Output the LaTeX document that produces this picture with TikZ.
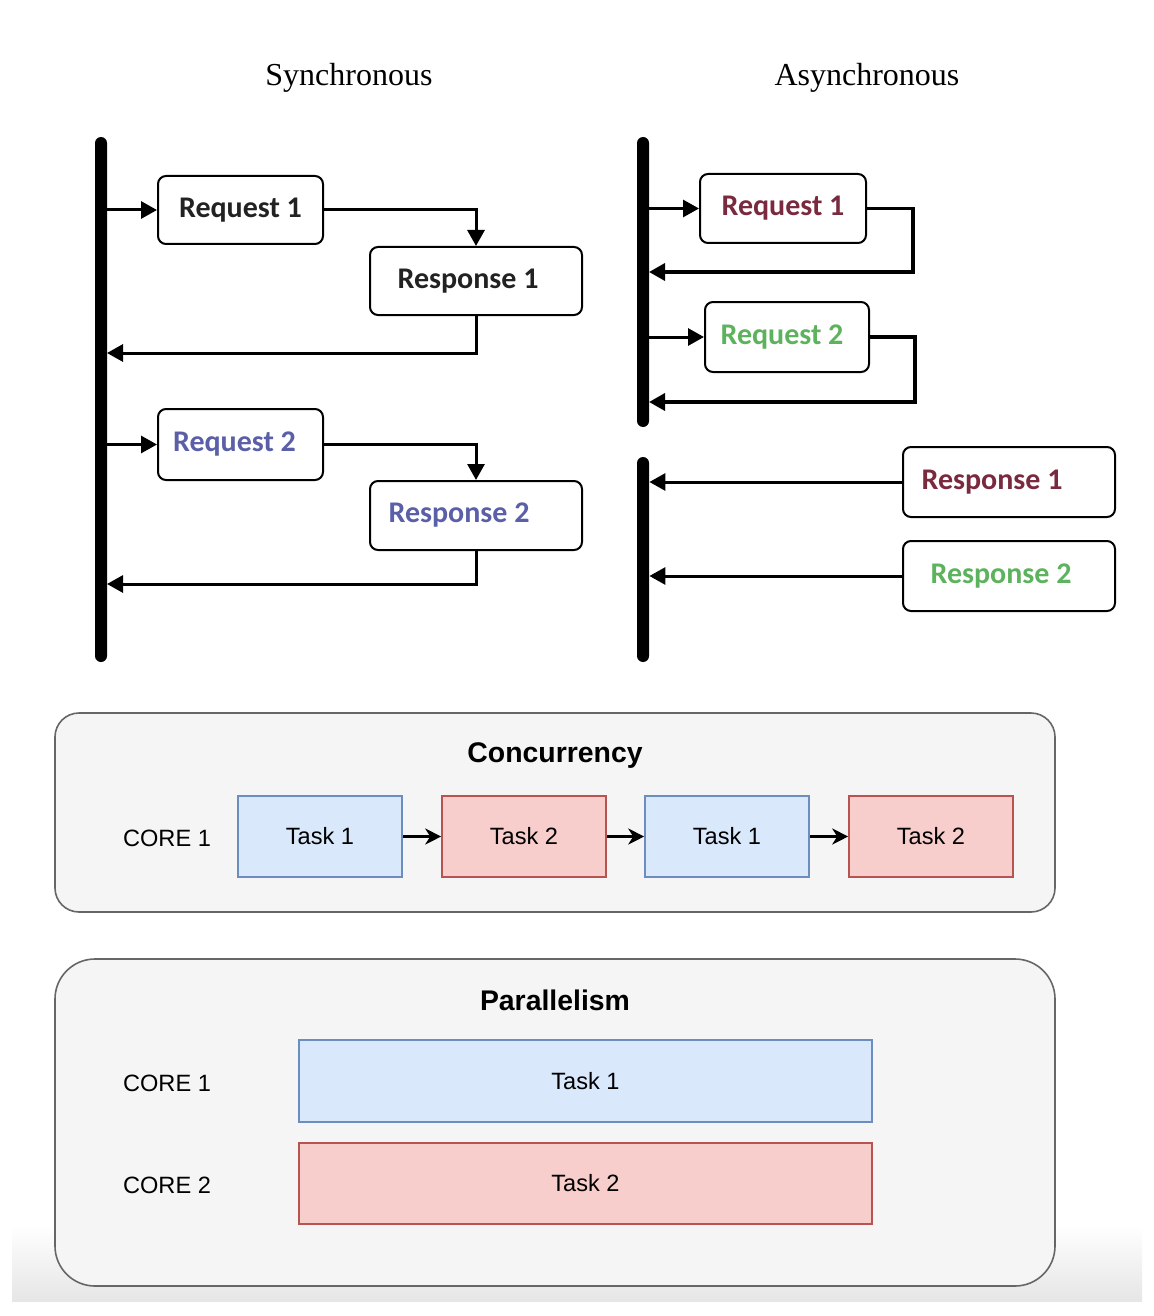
\documentclass[tikz,border=0pt]{standalone}
\usepackage{fontspec}
\setmainfont{Liberation Serif}
\newfontfamily\calfont{Carlito}
\newfontfamily\helvfont{Liberation Sans}
\usetikzlibrary{arrows.meta}
\definecolor{panelfill}{HTML}{F5F5F5}
\definecolor{panelline}{HTML}{666666}
\definecolor{bluefill}{HTML}{DAE8FC}
\definecolor{blueline}{HTML}{6C8EBF}
\definecolor{redfill}{HTML}{F8CECC}
\definecolor{redline}{HTML}{B85450}
\definecolor{maroontxt}{HTML}{7A2A3E}
\definecolor{greentxt}{HTML}{5DB35D}
\definecolor{bluetxt}{HTML}{5A5FA8}
\definecolor{darktxt}{HTML}{222222}
\tikzset{
  msgbox/.style={draw=black, line width=1pt, rounded corners=4pt, fill=white,
    font=\calfont\bfseries\fontsize{15}{17}\selectfont, inner sep=0pt},
  timebar/.style={fill=black, rounded corners=3pt, minimum width=6pt, inner sep=0pt},
  flow/.style={line width=1.5pt, -{Triangle[length=8pt,width=8.5pt]}},
  aflow/.style={line width=1.8pt, -{Triangle[length=8pt,width=8.5pt]}},
  title/.style={font=\fontsize{16}{19}\selectfont},
  panel/.style={draw=panelline, fill=panelfill, line width=0.8pt},
  bluetask/.style={draw=blueline, fill=bluefill, line width=0.8pt, inner sep=0pt,
    font=\helvfont\fontsize{11.8}{14}\selectfont},
  redtask/.style={draw=redline, fill=redfill, line width=0.8pt, inner sep=0pt,
    font=\helvfont\fontsize{11.8}{14}\selectfont},
  corelabel/.style={font=\helvfont\fontsize{11.8}{14}\selectfont},
  paneltitle/.style={font=\helvfont\bfseries\fontsize{14.2}{16}\selectfont},
  taskflow/.style={line width=1.2pt, -{Stealth[length=8pt,width=8pt,inset=2.5pt]}}
}
\begin{document}
\begin{tikzpicture}[x=0.5pt,y=-0.5pt]
\useasboundingbox (0,0) rectangle (1154,1316);
\fill[white] (0,0) rectangle (1154,1316);
\shade[top color=white, bottom color=black!10] (12,1225) rectangle (1142,1301);

% ---------- Titles ----------
\node[title] (tsync) at (349,78) {Synchronous};
\node[title] (tasync) at (867,78) {Asynchronous};

% ---------- Synchronous ----------
\node[timebar, minimum height=262.5pt] (sbar) at (101,399.5) {};
\node[msgbox, minimum width=82.5pt, minimum height=34pt, text=darktxt] (sreq1) at (240.5,210) {Request 1};
\node[msgbox, minimum width=106pt, minimum height=34pt, text=darktxt] (sresp1) at (476,281) {Response 1\hspace*{8pt}};
\node[msgbox, minimum width=82.5pt, minimum height=35.5pt, text=bluetxt] (sreq2) at (240.5,444.5) {Request 2\hspace*{6pt}};
\node[msgbox, minimum width=106pt, minimum height=34.5pt, text=bluetxt] (sresp2) at (476,515.5) {Response 2\hspace*{17pt}};
\coordinate (sret1) at (107,353);
\coordinate (sret2) at (107,584);

\draw[flow] (sbar.east |- sreq1.west) -- (sreq1.west);
\draw[flow] (sreq1.east) -| (sresp1.north);
\draw[flow] (sresp1.south) |- (sret1);
\draw[flow] (sbar.east |- sreq2.west) -- (sreq2.west);
\draw[flow] (sreq2.east) -| (sresp2.north);
\draw[flow] (sresp2.south) |- (sret2);

% ---------- Asynchronous ----------
\node[timebar, minimum height=145pt] (abar1) at (643,282) {};
\node[timebar, minimum height=102.5pt] (abar2) at (643,559.5) {};
\node[msgbox, minimum width=83pt, minimum height=34.5pt, text=maroontxt] (areq1) at (783,208.5) {Request 1};
\node[msgbox, minimum width=82pt, minimum height=35pt, text=greentxt] (areq2) at (787,337) {Request 2\hspace*{5pt}};
\node[msgbox, minimum width=106pt, minimum height=35pt, text=maroontxt] (aresp1) at (1009,482) {Response 1\hspace*{17pt}};
\node[msgbox, minimum width=106pt, minimum height=35pt, text=greentxt] (aresp2) at (1009,576) {Response 2\hspace*{8pt}};
\coordinate (ac1) at (913,272);
\coordinate (aret1) at (649,272);
\coordinate (ac2) at (915,402);
\coordinate (aret2) at (649,402);

\draw[flow] (abar1.east |- areq1.west) -- (areq1.west);
\draw[aflow] (areq1.east) -| (ac1) -- (aret1);
\draw[flow] (abar1.east |- areq2.west) -- (areq2.west);
\draw[aflow] (areq2.east) -| (ac2) -- (aret2);
\draw[flow] (aresp1.west) -- (abar2.east |- aresp1.west);
\draw[flow] (aresp2.west) -- (abar2.east |- aresp2.west);

% ---------- Concurrency ----------
\draw[panel, rounded corners=12pt] (55,713) rectangle (1055,912);
\node[paneltitle] (conc) at (555,756) {Concurrency};
\node[corelabel] (ccore) at (167,838) {CORE 1};
\node[bluetask, minimum width=82pt, minimum height=40.5pt] (ct1) at (320,836.5) {Task 1};
\node[redtask, minimum width=82pt, minimum height=40.5pt] (ct2) at (524,836.5) {Task 2};
\node[bluetask, minimum width=82pt, minimum height=40.5pt] (ct3) at (727,836.5) {Task 1};
\node[redtask, minimum width=82pt, minimum height=40.5pt] (ct4) at (931,836.5) {Task 2};
\draw[taskflow] (ct1.east) -- (ct2.west);
\draw[taskflow] (ct2.east) -- (ct3.west);
\draw[taskflow] (ct3.east) -- (ct4.west);

% ---------- Parallelism ----------
\draw[panel, rounded corners=20pt] (55,959) rectangle (1055,1286);
\node[paneltitle] (para) at (555,1000) {Parallelism};
\node[corelabel] (pcore1) at (167,1083) {CORE 1};
\node[corelabel] (pcore2) at (167,1185) {CORE 2};
\node[bluetask, minimum width=286.5pt, minimum height=41pt] (pt1) at (585.5,1081) {Task 1};
\node[redtask, minimum width=286.5pt, minimum height=40.5pt] (pt2) at (585.5,1183.5) {Task 2};
\end{tikzpicture}
\end{document}
